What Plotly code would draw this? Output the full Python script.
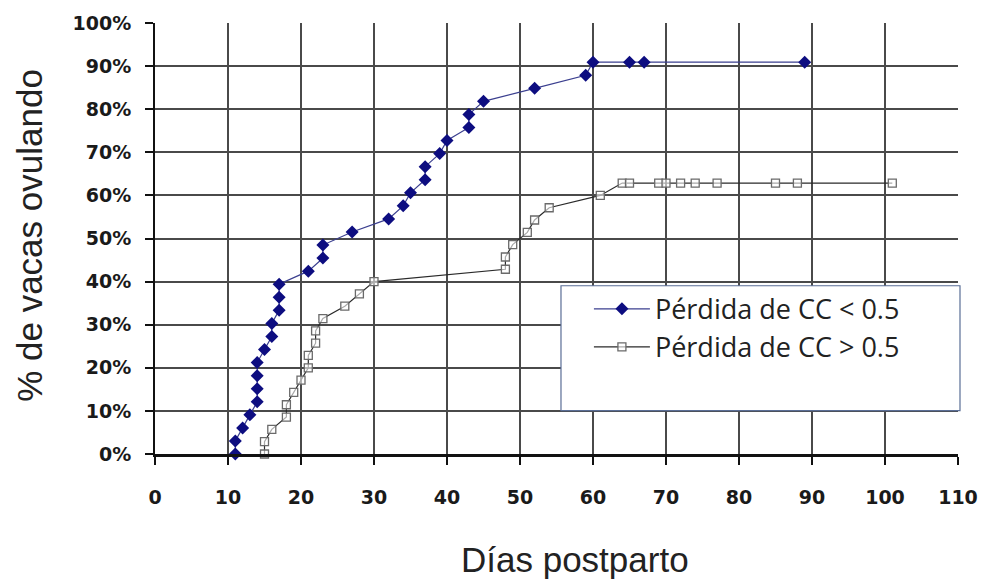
import plotly.graph_objects as go

# Pérdida de CC < 0.5 (blue)
blue_days = [11, 11, 12, 13, 14, 14, 14, 14, 15, 16, 16, 17, 17, 17, 21, 23, 23, 27, 32, 34,
             35, 37, 37, 39, 40, 43, 43, 45, 52, 59, 60, 65, 67, 89]
blue_pct = [0, 3.03, 6.06, 9.09, 12.12, 15.15, 18.18, 21.21, 24.24, 27.27, 30.30, 33.33, 36.36,
            39.39, 42.42, 45.45, 48.48, 51.52, 54.55, 57.58, 60.61, 63.64, 66.67, 69.70, 72.73,
            75.76, 78.79, 81.82, 84.85, 87.88, 90.91, 90.91, 90.91, 90.91]

# Pérdida de CC > 0.5 (gray)
gray_days = [15, 15, 16, 18, 18, 19, 20, 21, 21, 22, 22, 23, 26, 28, 30, 48, 48, 49, 51, 52, 54,
             61, 64, 65, 69, 70, 72, 74, 77, 85, 88, 101]
gray_pct = [0, 2.86, 5.71, 8.57, 11.43, 14.29, 17.14, 20.0, 22.86, 25.71, 28.57, 31.43, 34.29,
            37.14, 40.0, 42.86, 45.71, 48.57, 51.43, 54.29, 57.14, 60.0, 62.86, 62.86, 62.86,
            62.86, 62.86, 62.86, 62.86, 62.86, 62.86, 62.86]

x_ticks = list(range(0, 111, 10))
y_ticks = list(range(0, 101, 10))
y_labels = [f"{v}%" for v in y_ticks]

fig = go.Figure()
fig.add_trace(go.Scatter(
    x=blue_days, y=blue_pct, mode="lines+markers", name="Pérdida de CC < 0.5",
    line=dict(color="#3b3f8f", width=1.2),
    marker=dict(symbol="diamond", size=10, color="#0d0d80"),
    cliponaxis=False, legendgroup="a",
))
fig.add_trace(go.Scatter(
    x=gray_days, y=gray_pct, mode="lines+markers", name="Pérdida de CC > 0.5",
    line=dict(color="#2a2a2a", width=1.2),
    marker=dict(symbol="square", size=8, color="rgba(255,255,255,0.6)",
                line=dict(color="#6a6a6a", width=1.3)),
    cliponaxis=False, legendgroup="b",
))

L, R, T, B = 155, 30, 16, 125
PW, PH = 990 - L - R, 579 - T - B
tickfont = dict(family="DejaVu Sans", size=19, color="#1a1a1a", weight="bold")

fig.update_layout(
    width=990, height=579,
    margin=dict(l=L, r=R, t=T, b=B),
    paper_bgcolor="white", plot_bgcolor="white",
    showlegend=True,
    legend=dict(
        x=(590 - L) / PW, y=(579 - B - 282) / PH,
        xanchor="left", yanchor="top",
        bgcolor="rgba(0,0,0,0)", borderwidth=0,
        font=dict(family="Open Sans", size=27, color="#222"),
        tracegroupgap=0, itemwidth=56,
    ),
    xaxis=dict(
        range=[0, 110], tickvals=x_ticks, ticktext=[str(v) for v in x_ticks],
        showgrid=True, gridcolor="#4a4a4a", gridwidth=1.5,
        showline=True, linecolor="#111", linewidth=3,
        ticks="outside", ticklen=8, tickwidth=2, tickcolor="#111",
        ticklabelstandoff=16,
        tickfont=tickfont,
        zeroline=False,
    ),
    yaxis=dict(
        range=[0, 100], tickvals=y_ticks, ticktext=y_labels,
        showgrid=True, gridcolor="#4a4a4a", gridwidth=1.5,
        showline=True, linecolor="#111", linewidth=2,
        ticks="outside", ticklen=8, tickwidth=2, tickcolor="#111",
        ticklabelstandoff=10,
        tickfont=tickfont,
        zeroline=False,
    ),
    shapes=[dict(
        type="rect", xref="paper", yref="paper",
        x0=(562 - L) / PW, x1=(962 - L) / PW,
        y0=(579 - B - 410) / PH, y1=(579 - B - 283) / PH,
        line=dict(color="#5a6e96", width=1.2), fillcolor="white", layer="above",
    )],
    annotations=[
        dict(text="Días postparto", xref="paper", yref="paper",
             x=(576 - L) / PW, y=(579 - B - 561) / PH,
             showarrow=False, xanchor="center", yanchor="middle",
             font=dict(family="Liberation Sans", size=35, color="#222")),
        dict(text="% de vacas ovulando", xref="paper", yref="paper",
             x=(29 - L) / PW, y=(579 - B - 232) / PH,
             showarrow=False, xanchor="center", yanchor="middle", textangle=-90,
             font=dict(family="Liberation Sans", size=35, color="#222")),
    ],
)

fig.write_html("out.html")
